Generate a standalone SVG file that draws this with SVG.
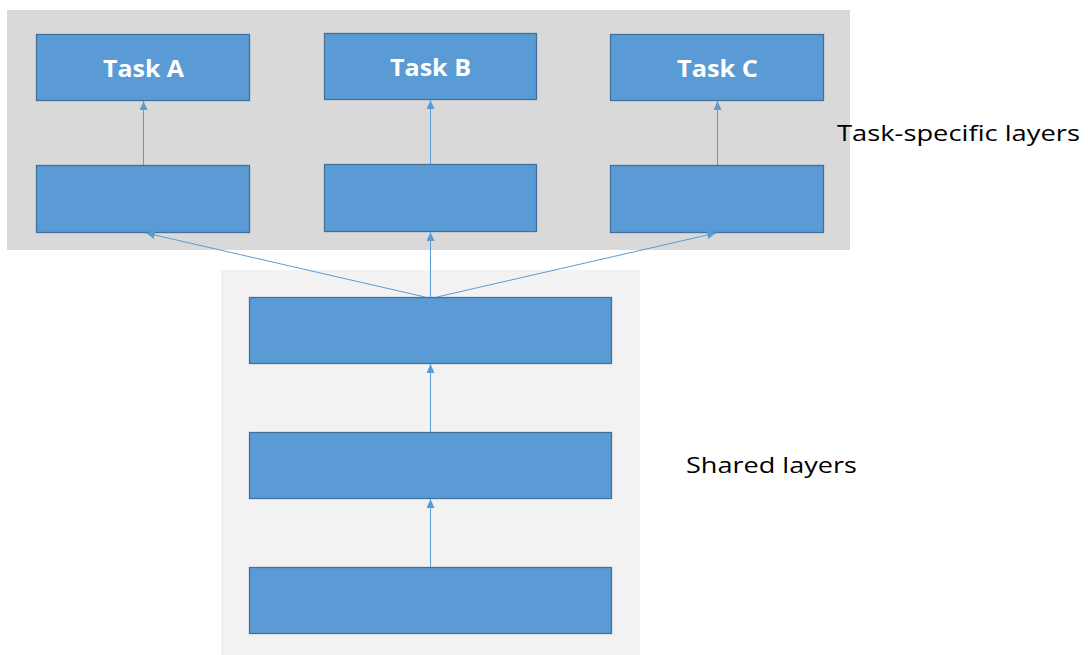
<svg xmlns="http://www.w3.org/2000/svg" width="1088" height="655" viewBox="0 0 1088 655">
<style>
.box{fill:#5B9BD5;stroke:#41719C;stroke-width:1.3}
.lbl{font-family:"Open Sans","DejaVu Sans",sans-serif;font-weight:bold;font-size:22.5px;fill:#FFFFFF;text-anchor:middle}
.cap{font-family:"Open Sans","DejaVu Sans",sans-serif;font-size:21px;fill:#000000}
.con{stroke:#5B9BD5;stroke-width:1;fill:none}
</style>
<defs>
<marker id="ah" markerWidth="10" markerHeight="8" refX="9" refY="4" orient="auto" markerUnits="userSpaceOnUse">
<path d="M0,0 L9,4 L0,8 Z" fill="#5B9BD5"/>
</marker>
</defs>
<rect x="0" y="0" width="1088" height="655" fill="#FFFFFF"/>
<rect id="panel-task" x="7" y="10" width="843" height="240" fill="#D9D9D9"/>
<rect id="panel-shared" x="221" y="270" width="419" height="385" fill="#F2F2F2"/>
<g id="taskA"><rect class="box" x="36.5" y="34.5" width="213" height="66"/><text class="lbl" x="143.5" y="76.5" textLength="81" lengthAdjust="spacingAndGlyphs">Task A</text></g>
<g id="taskB"><rect class="box" x="324.5" y="33.5" width="212" height="66"/><text class="lbl" x="430.5" y="75.5" textLength="81" lengthAdjust="spacingAndGlyphs">Task B</text></g>
<g id="taskC"><rect class="box" x="610.5" y="34.5" width="213" height="66"/><text class="lbl" x="717.5" y="76.5" textLength="81" lengthAdjust="spacingAndGlyphs">Task C</text></g>
<g id="layerA"><rect class="box" x="36.5" y="165.5" width="213" height="67"/></g>
<g id="layerB"><rect class="box" x="324.5" y="164.5" width="212" height="67"/></g>
<g id="layerC"><rect class="box" x="610.5" y="165.5" width="213" height="67"/></g>
<g id="shared3"><rect class="box" x="249.5" y="297.5" width="362" height="66"/></g>
<g id="shared2"><rect class="box" x="249.5" y="432.5" width="362" height="66"/></g>
<g id="shared1"><rect class="box" x="249.5" y="567.5" width="362" height="66"/></g>
<g id="connectors">
<line class="con" x1="143.5" y1="165" x2="143.5" y2="101" marker-end="url(#ah)"/>
<line class="con" x1="430.5" y1="164" x2="430.5" y2="100" marker-end="url(#ah)"/>
<line class="con" x1="717.5" y1="165" x2="717.5" y2="101" marker-end="url(#ah)"/>
<line class="con" x1="425" y1="297" x2="146" y2="233" marker-end="url(#ah)"/>
<line class="con" x1="430.5" y1="297" x2="430.5" y2="232" marker-end="url(#ah)"/>
<line class="con" x1="437" y1="297" x2="716" y2="233" marker-end="url(#ah)"/>
<line class="con" x1="430.5" y1="432" x2="430.5" y2="364" marker-end="url(#ah)"/>
<line class="con" x1="430.5" y1="567" x2="430.5" y2="499" marker-end="url(#ah)"/>
</g>
<text class="cap" x="837" y="141" textLength="243" lengthAdjust="spacingAndGlyphs">Task-specific layers</text>
<text class="cap" x="686" y="473" textLength="171" lengthAdjust="spacingAndGlyphs">Shared layers</text>
</svg>
